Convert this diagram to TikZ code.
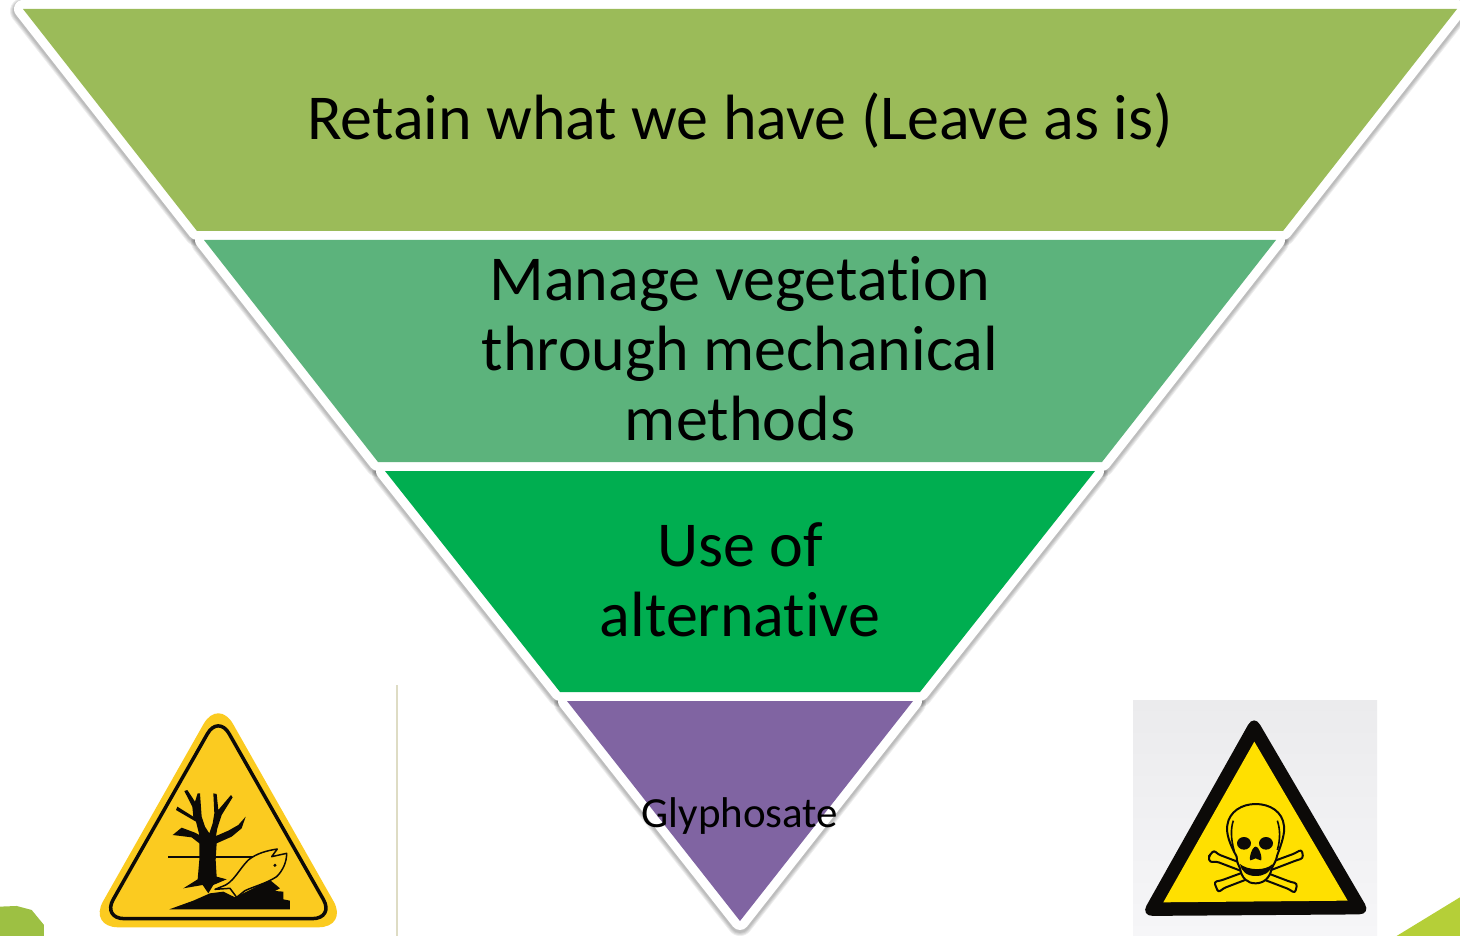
\documentclass[tikz,border=0pt]{standalone}
\usepackage{fontspec}
\setmainfont{Carlito}[Ligatures=NoCommon]
\definecolor{bandA}{HTML}{9BBB59}
\definecolor{bandB}{HTML}{5CB37C}
\definecolor{bandC}{HTML}{00AE50}
\definecolor{bandD}{HTML}{8064A2}
\definecolor{signY}{HTML}{FBCB20}
\definecolor{signK}{HTML}{0C0A08}
\definecolor{skullY}{HTML}{FFE000}
\definecolor{photo}{HTML}{EBEBED}
\definecolor{photob}{HTML}{F6F6F8}
\definecolor{rule}{HTML}{DEDCC4}
\definecolor{leafL}{HTML}{9DC043}
\definecolor{leafR}{HTML}{B5CF38}
\tikzset{
  bigtext/.style={font=\fontsize{64}{70}\selectfont,align=center,text=black,inner sep=0pt},
  smalltext/.style={font=\fontsize{43}{48}\selectfont,text=black,inner sep=0pt},
  halo/.style={draw=white,fill=white,line width=18pt,line join=round},
  shadelayer/.style={draw=black,opacity=.07,line join=round,yshift=-2pt},
  bone/.style={fill=skullY,draw=signK,line width=2pt,rounded corners=3pt,line join=round},
  zoomA/.style={shift={(0,680)},x=.3333pt,y=-.3333pt},
  zoomB/.style={shift={(1120,680)},x=.3333pt,y=-.3333pt},
  zoomTree/.style={shift={(160,780)},x=.3333pt,y=-.3333pt},
  zoomSkull/.style={shift={(1190,790)},x=.3333pt,y=-.3333pt}
}
\def\bandone{(23,9)--(1457,9)--(1283,231)--(197,231)--cycle}
\def\bandtwo{(204,240)--(1276,240)--(1102,462)--(378,462)--cycle}
\def\bandthree{(385,471)--(1095,471)--(920,692)--(560,692)--cycle}
\def\bandfour{(567,701)--(913,701)--(740,921)--cycle}
\begin{document}
\begin{tikzpicture}[x=1pt,y=-1pt]
\useasboundingbox (0,0) rectangle (1460,936);
\fill[white] (0,0) rectangle (1460,936);
% corner leaves and rule
\begin{scope}[zoomA]
\fill[leafL] (0,680)--(50,678)--(95,690)--(132,735)--(132,768)--(0,768)--cycle;
\end{scope}
\begin{scope}[zoomB]
\fill[leafR] (1020,652)--(830,768)--(1020,768)--cycle;
\end{scope}
\draw[rule,line width=2pt] (396.5,685)--(396.5,936);
% shadows
\foreach \b in {\bandone,\bandtwo,\bandthree,\bandfour}{
  \draw[shadelayer,line width=26pt] \b;
  \draw[shadelayer,line width=24pt] \b;
  \draw[shadelayer,line width=22pt] \b;
  \draw[shadelayer,line width=20pt] \b;
}
% halos
\foreach \b in {\bandone,\bandtwo,\bandthree,\bandfour}{
  \draw[halo] \b;
}
\fill[bandA] \bandone;
\fill[bandB] \bandtwo;
\fill[bandC] \bandthree;
\fill[bandD] \bandfour;
% labels
\node[bigtext] (retain) at (740,121) {Retain what we have (Leave as is)};
\node[bigtext] (manage) at (740,349) {Manage vegetation\\through mechanical\\methods};
\node[bigtext] (useof) at (740,580) {Use of\\alternative};
\node[smalltext] (gly) at (740,816) {Glyphosate};
% environment sign
\begin{scope}[zoomA]
\fill[signY,rounded corners=30pt] (655,54)--(1045,742)--(265,742)--cycle;
\draw[signK,line width=3.5pt,rounded corners=22pt,line join=round] (655,104)--(1003,716)--(307,716)--cycle;
\draw[signK,line width=2pt] (505,532)--(775,532);
\end{scope}
\begin{scope}[zoomTree]
\fill[signK] (145,340)--(128,315)--(70,325)--(113,298)--(118,240)--(118,190)--(95,172)--(38,165)--(65,143)--(105,158)--(118,165)--(108,125)--(48,90)--(52,80)--(100,110)--(97,80)--(73,33)--(82,30)--(105,65)--(113,40)--(120,40)--(125,110)--(135,140)--(148,160)--(158,130)--(163,100)--(160,40)--(170,42)--(175,90)--(213,45)--(218,52)--(185,105)--(172,145)--(168,168)--(205,152)--(235,135)--(257,110)--(245,145)--(215,170)--(170,190)--(167,240)--(170,290)--(200,298)--(160,315)--cycle;
\fill[signK] (28,388)--(100,362)--(150,340)--(190,335)--(225,352)--(280,325)--(330,300)--(360,325)--(345,333)--(370,335)--(370,358)--(390,362)--(390,388)--cycle;
\draw[fill=signY,draw=signK,line width=1.5pt,line join=round] (165,328)--(185,320) .. controls (220,310) and (235,270) .. (265,240) .. controls (290,220) and (320,212) .. (352,207)--(335,230)--(380,220) .. controls (380,245) and (370,270) .. (350,290) .. controls (320,310) and (280,320) .. (255,332)--(230,352)--(210,325)--cycle;
\fill[signK] (345,256) circle[radius=5];
\end{scope}
% toxic sign
\shade[top color=photo,bottom color=photob] (1133,700) rectangle (1377,936);
\begin{scope}[zoomB]
\fill[signK,rounded corners=12pt] (402,103)--(753,703)--(62,708)--cycle;
\fill[skullY] (403,185)--(683,662)--(130,667)--cycle;
\end{scope}
\begin{scope}[zoomSkull]
\draw[bone] (72,180)--(82,192)--(302,276)--(322,280)--(315,310)--(298,298)--(78,214)--(60,218)--(55,200)--(63,192)--cycle;
\draw[bone] (335,178)--(340,205)--(322,210)--(100,295)--(85,308)--(72,275)--(92,272)--(315,190)--cycle;
\draw[fill=skullY,draw=signK,line width=2pt] (140,200) .. controls (118,160) and (108,130) .. (112,105) .. controls (118,65) and (155,42) .. (197,42) .. controls (240,42) and (278,65) .. (282,108) .. controls (285,130) and (275,160) .. (262,195) .. controls (258,215) and (250,225) .. (245,235) .. controls (240,265) and (220,280) .. (197,280) .. controls (172,280) and (155,265) .. (150,235) .. controls (145,225) and (140,215) .. (140,200) -- cycle;
\draw[signK,line width=1.6pt] (130,92) .. controls (122,115) and (122,145) .. (133,185);
\draw[signK,line width=1.6pt] (262,92) .. controls (270,115) and (272,145) .. (262,180);
\fill[signK] (162,160) ellipse[x radius=21,y radius=19];
\fill[signK] (228,160) ellipse[x radius=21,y radius=19];
\fill[signK] (197,170) .. controls (208,170) and (218,205) .. (213,211) .. controls (207,212) and (202,205) .. (197,205) .. controls (192,205) and (187,212) .. (181,211) .. controls (176,205) and (186,170) .. (197,170) -- cycle;
\fill[signK] (150,222) .. controls (170,240) and (225,245) .. (248,222) .. controls (240,250) and (220,258) .. (197,258) .. controls (170,258) and (155,245) .. (150,222) -- cycle;
\end{scope}
\end{tikzpicture}
\end{document}
